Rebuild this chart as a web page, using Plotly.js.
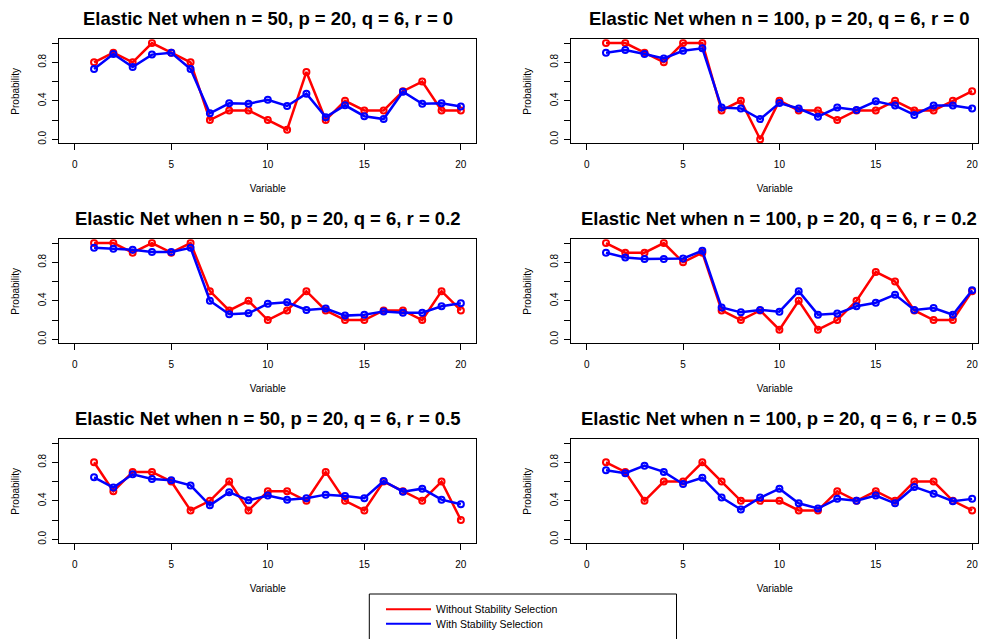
<!DOCTYPE html>
<html><head><meta charset="utf-8">
<script src="https://cdn.plot.ly/plotly-3.0.1.min.js"></script>
<style>html,body{margin:0;padding:0;background:#fff}#chart{width:987px;height:639px}</style>
</head><body><div id="chart"></div><script>
const variables = [1,2,3,4,5,6,7,8,9,10,11,12,13,14,15,16,17,18,19,20];

const panelTitles = [
  "Elastic Net when n = 50, p = 20, q = 6, r = 0",
  "Elastic Net when n = 100, p = 20, q = 6, r = 0",
  "Elastic Net when n = 50, p = 20, q = 6, r = 0.2",
  "Elastic Net when n = 100, p = 20, q = 6, r = 0.2",
  "Elastic Net when n = 50, p = 20, q = 6, r = 0.5",
  "Elastic Net when n = 100, p = 20, q = 6, r = 0.5"
];

const seriesNames = ["Without Stability Selection", "With Stability Selection"];

const without_n50_r0  = [0.8,0.9,0.8,1.0,0.9,0.8,0.2,0.3,0.3,0.2,0.1,0.7,0.2,0.4,0.3,0.3,0.5,0.6,0.3,0.3];
const with_n50_r0     = [0.73,0.887,0.75,0.88,0.9,0.73,0.27,0.374,0.37,0.41,0.346,0.474,0.23,0.353,0.24,0.21,0.495,0.37,0.374,0.34];

const without_n100_r0 = [1.0,1.0,0.9,0.8,1.0,1.0,0.3,0.4,0.0,0.4,0.3,0.3,0.2,0.3,0.3,0.4,0.3,0.3,0.4,0.5];
const with_n100_r0    = [0.9,0.928,0.887,0.84,0.92,0.945,0.33,0.32,0.21,0.377,0.32,0.235,0.33,0.305,0.395,0.35,0.253,0.35,0.35,0.32];

const without_n50_r02 = [1.0,1.0,0.9,1.0,0.9,1.0,0.5,0.3,0.4,0.2,0.3,0.5,0.3,0.2,0.2,0.3,0.3,0.2,0.5,0.3];
const with_n50_r02    = [0.95,0.94,0.93,0.907,0.907,0.95,0.40,0.26,0.27,0.37,0.385,0.305,0.32,0.246,0.256,0.29,0.277,0.277,0.343,0.374];

const without_n100_r02 = [1.0,0.9,0.9,1.0,0.8,0.9,0.3,0.2,0.3,0.1,0.4,0.1,0.2,0.4,0.7,0.6,0.3,0.2,0.2,0.5];
const with_n100_r02    = [0.9,0.85,0.835,0.835,0.84,0.92,0.33,0.28,0.305,0.287,0.50,0.256,0.267,0.343,0.38,0.464,0.305,0.325,0.256,0.51];

const without_n50_r05 = [0.8,0.5,0.7,0.7,0.6,0.3,0.4,0.6,0.3,0.5,0.5,0.4,0.7,0.4,0.3,0.6,0.5,0.4,0.6,0.2];
const with_n50_r05    = [0.644,0.537,0.675,0.627,0.613,0.56,0.353,0.49,0.405,0.454,0.41,0.426,0.464,0.45,0.426,0.606,0.495,0.526,0.412,0.364];

const without_n100_r05 = [0.8,0.7,0.4,0.6,0.6,0.8,0.6,0.4,0.4,0.4,0.3,0.3,0.5,0.4,0.5,0.4,0.6,0.6,0.4,0.3];
const with_n100_r05    = [0.717,0.686,0.765,0.70,0.575,0.64,0.433,0.31,0.433,0.526,0.374,0.32,0.42,0.40,0.454,0.374,0.544,0.474,0.395,0.42];

const xTickVals = [0,5,10,15,20];
const yTickVals = [0,0.2,0.4,0.6,0.8,1.0];
const yTickText = ["0.0","","0.4","","0.8",""];

const panelsWithout = [without_n50_r0, without_n100_r0, without_n50_r02, without_n100_r02, without_n50_r05, without_n100_r05];
const panelsWith    = [with_n50_r0, with_n100_r0, with_n50_r02, with_n100_r02, with_n50_r05, with_n100_r05];

const W = 987, H = 639;
const FONT = "Liberation Sans, Arial, Helvetica, sans-serif";
const RED = "#ff0000", BLUE = "#0000ff";

const colPx = [[59.3, 476.3], [571.3, 978.3]];
const colRange = [[-0.8, 20.8], [-0.8, 20.32]];
const titleCenterPx = [268, 779];
const rowTopPx = [39.3, 239.3, 439.3];
const boxH = 104;

const traces = [];
const layout = {
  width: W, height: H,
  margin: {l:0, r:0, t:0, b:0},
  paper_bgcolor: "#fff", plot_bgcolor: "#fff",
  font: {family: FONT, size: 10, color: "#000"},
  showlegend: true,
  annotations: [],
  shapes: []
};

for (let i = 0; i < 6; i++) {
  const col = i % 2, row = Math.floor(i / 2);
  const ax = i + 1;
  const xa = "x" + (ax === 1 ? "" : ax), ya = "y" + (ax === 1 ? "" : ax);
  const xk = "xaxis" + (ax === 1 ? "" : ax), yk = "yaxis" + (ax === 1 ? "" : ax);
  const x0 = colPx[col][0] / W, x1 = Math.min(1, colPx[col][1] / W);
  const top = rowTopPx[row], bot = top + boxH;
  layout[xk] = {
    domain: [x0, x1], anchor: ya, range: colRange[col],
    tickmode: "array", tickvals: xTickVals,
    showline: true, mirror: true, linecolor: "#000", linewidth: 1,
    ticks: "outside", ticklen: 6, tickcolor: "#000",
    showgrid: false, zeroline: false,
    tickfont: {family: FONT, size: 10, color: "#000"},
    ticklabelstandoff: 6,
    title: {text: "Variable", font: {family: FONT, size: 10, color: "#000"}, standoff: 15}
  };
  layout[yk] = {
    domain: [1 - bot / H, 1 - top / H], anchor: xa, range: [-0.0416, 1.039],
    tickmode: "array", tickvals: yTickVals, ticktext: yTickText,
    tickangle: -90,
    showline: true, mirror: true, linecolor: "#000", linewidth: 1,
    ticks: "outside", ticklen: 6, tickcolor: "#000",
    showgrid: false, zeroline: false,
    tickfont: {family: FONT, size: 10, color: "#000"},
    ticklabelstandoff: 2,
    title: {text: "Probability", font: {family: FONT, size: 10, color: "#000"}, standoff: 15}
  };
  layout.annotations.push({
    xref: "paper", yref: "paper",
    x: titleCenterPx[col] / W,
    y: 1 - (top - 20.8) / H, xanchor: "center", yanchor: "middle",
    text: "<b>" + panelTitles[i] + "</b>", showarrow: false,
    font: {family: FONT, size: 18.5, color: "#000"}
  });
  traces.push({
    x: variables, y: panelsWithout[i], xaxis: xa, yaxis: ya,
    type: "scatter", mode: "lines+markers", showlegend: false,
    name: seriesNames[0],
    line: {color: RED, width: 2.5},
    marker: {symbol: "circle-open", size: 6, color: RED, line: {width: 2, color: RED}}
  });
  traces.push({
    x: variables, y: panelsWith[i], xaxis: xa, yaxis: ya,
    type: "scatter", mode: "lines+markers", showlegend: false,
    name: seriesNames[1],
    line: {color: BLUE, width: 2.5},
    marker: {symbol: "circle-open", size: 6, color: BLUE, line: {width: 2, color: BLUE}}
  });
}

// legend entries
traces.push({x:[null], y:[null], type:"scatter", mode:"lines", name: seriesNames[0],
  line:{color:RED, width:2}, legend:"legend", showlegend:true, hoverinfo:"skip"});
traces.push({x:[null], y:[null], type:"scatter", mode:"lines", name: seriesNames[1],
  line:{color:BLUE, width:2}, legend:"legend2", showlegend:true, hoverinfo:"skip"});

const legendCommon = {
  xanchor: "left", yanchor: "middle", bgcolor: "rgba(0,0,0,0)", borderwidth: 0,
  font: {family: FONT, size: 10.5, color: "#000"}, itemwidth: 45, tracegroupgap: 0
};
layout.legend = Object.assign({}, legendCommon, {x: 381 / W, y: 1 - 609.3 / H});
layout.legend2 = Object.assign({}, legendCommon, {x: 381 / W, y: 1 - 623.7 / H});

layout.shapes.push({type:"rect", xref:"paper", yref:"paper",
  x0: 369.3 / W, x1: 676.5 / W, y0: -0.05, y1: 1 - 594 / H,
  line:{color:"#000", width:1}, fillcolor:"rgba(0,0,0,0)"});

Plotly.newPlot("chart", traces, layout, {staticPlot: true, displayModeBar: false});
</script></body></html>
